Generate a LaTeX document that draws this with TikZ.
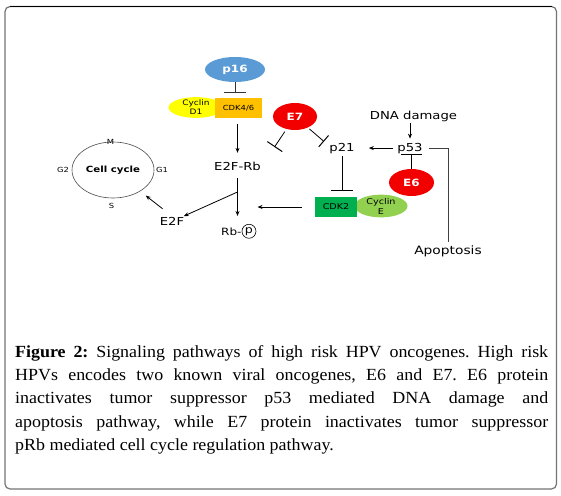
\documentclass[tikz,border=0pt]{standalone}
\usepackage{fontspec}
\setmainfont{Liberation Serif}
\newfontfamily\capfont[FakeStretch=1.055]{Liberation Serif}
\newfontfamily\dg[FakeStretch=1.2]{DejaVu Sans}
\usetikzlibrary{shapes.geometric,arrows.meta}
\definecolor{pblue}{HTML}{5B9BD5}
\definecolor{cyel}{HTML}{FFFF00}
\definecolor{corange}{HTML}{FFC000}
\definecolor{ered}{HTML}{F20000}
\definecolor{cdkgreen}{HTML}{00B050}
\definecolor{cegreen}{HTML}{92D050}
\frenchspacing
\begin{document}
\begin{tikzpicture}[x=1pt,y=-1pt,
  lbl/.style={inner sep=1pt, font=\dg\fontsize{11}{13}\selectfont},
  small/.style={inner sep=0pt, font=\dg\fontsize{7}{8}\selectfont},
  arr/.style={-{Stealth[length=5pt,width=4pt]}, line width=0.8pt},
  tee/.style={-{Bar[width=#1,line width=1pt]}, line width=0.8pt},
  tee/.default=20pt,
  oval/.style={ellipse, inner sep=0pt},
  capline/.style={anchor=base west, inner sep=0pt, font=\capfont\fontsize{17}{23}\selectfont},
  ]
\useasboundingbox (0,0) rectangle (561,495);
% frame
\draw[line width=1.2pt, black!55, rounded corners=5pt] (5,6.5) rectangle (556.5,489);
\draw[line width=1.2pt, black] (10,6.5) -- (551.5,6.5);

% p16 / cyclin D1 / CDK4/6
\node[oval, fill=pblue, minimum width=60pt, minimum height=25pt, text=white,
      font=\dg\bfseries\fontsize{10}{12}\selectfont] (p16) at (235,69.5) {p16};
\node[oval, fill=cyel, minimum width=55pt, minimum height=19pt, align=center,
      font=\dg\fontsize{7.5}{9}\selectfont] (cycd) at (196,107.5) {Cyclin\\D1};
\node[rectangle, fill=corange, minimum width=47pt, minimum height=20pt, inner sep=0pt,
      font=\dg\fontsize{7}{8}\selectfont] (cdk46) at (238.5,108) {CDK4/6};

% E7
\node[oval, fill=ered, minimum width=44pt, minimum height=27pt, text=white,
      font=\dg\bfseries\fontsize{10}{12}\selectfont] (e7) at (295,116.5) {E7};

% text nodes
\node[lbl, anchor=base] (e2frb) at (237.5,170) {E2F-Rb};
\node[lbl, anchor=base] (p21) at (342,151) {p21};
\node[lbl, anchor=base] (dna) at (413.5,119.3) {DNA damage};
\node[lbl, anchor=base] (p53) at (410,151) {p53};
\node[lbl, anchor=base, font=\dg\fontsize{11.5}{13}\selectfont] (apo) at (448,254.3) {Apoptosis};
\node[lbl, anchor=base] (e2f) at (172,225.5) {E2F};
\node[lbl, anchor=base west, font=\dg\fontsize{10}{12}\selectfont] (rb) at (220,235) {Rb-};
\node[circle, draw, line width=0.6pt, inner sep=0pt, minimum size=14pt, anchor=west,
      font=\dg\fontsize{10.5}{12}\selectfont] (pcirc) at ([xshift=-1pt]rb.east) {p};

% E6
\node[oval, fill=ered, minimum width=45pt, minimum height=27pt, text=white,
      font=\dg\bfseries\fontsize{10}{12}\selectfont] (e6) at (411.5,182.5) {E6};

% CDK2 / cyclin E
\node[oval, fill=cegreen, minimum width=53pt, minimum height=22pt, align=center,
      font=\dg\fontsize{8}{10}\selectfont] (cyce) at (381,206) {Cyclin\\E};
\node[rectangle, fill=cdkgreen, minimum width=42pt, minimum height=20pt, inner sep=0pt,
      font=\dg\fontsize{8}{9}\selectfont] (cdk2) at (336,207) {CDK2};

% cell cycle
\node[ellipse, draw=black!70, line width=0.6pt, minimum width=82pt, minimum height=56pt, inner sep=0pt,
      font=\dg\bfseries\fontsize{8.5}{10}\selectfont] (cc) at (113,170) {Cell cycle};
\node[small] (pm) at (110.5,141.5) {M};
\node[small] (pg2) at (63,170) {G2};
\node[small] (pg1) at (162,170) {G1};
\node[small] (ps) at (111.5,206) {S};

% coordinates for free ends
\coordinate (t1) at (274.5,147);
\coordinate (t2) at (324,141.5);
\coordinate (br) at (237.5,192);

% connectors
\draw[tee=22pt, black!80, shorten >=5.3pt] (p16.south) -- (p16.south |- cdk46.north);
\draw[arr, shorten <=6pt, shorten >=7.6pt] (e2frb.north |- cdk46.south) -- (e2frb.north);
\draw[tee=18pt, shorten <=3pt] (e7) -- (t1);
\draw[tee=15pt, shorten <=2pt] (e7) -- (t2);
\draw[arr, shorten >=3pt] (dna.south -| p53.north) -- (p53.north);
\draw[arr, shorten <=3pt, shorten >=13pt] (p53.west) -- (p21.east);
\draw[line width=0.8pt, black!75, shorten <=5pt, shorten >=2pt] (p53.east) -| (apo.north);
\draw[tee=21pt] (e6.north) -- (e6.north |- p53.south);
\draw[tee=22pt, shorten <=2pt, shorten >=6pt] (p21.south) -- (p21.south |- cdk2.north);
\draw[arr, shorten <=13pt, shorten >=20pt] (cdk2.west) -- (cdk2.west -| e2frb.south);
\draw[arr, shorten <=7pt, shorten >=8pt] (e2frb.south) -- (e2frb.south |- pcirc.north);
\draw[arr] (br) -- (e2f);
\draw[arr, shorten <=12pt, shorten >=7pt] (e2f.north) -- (cc);

% caption
\node[capline] (c1) at (15,357.3) {\makebox[533pt][s]{\textbf{Figure 2:} Signaling pathways of high risk HPV oncogenes. High risk}};
\node[capline] (c2) at (15,380.5) {\makebox[533pt][s]{HPVs encodes two known viral oncogenes, E6 and E7. E6 protein}};
\node[capline] (c3) at (15,403.8) {\makebox[533pt][s]{inactivates tumor suppressor p53 mediated DNA damage and}};
\node[capline] (c4) at (15,427.1) {\makebox[533pt][s]{apoptosis pathway, while E7 protein inactivates tumor suppressor}};
\node[capline] (c5) at (15,450.4) {pRb mediated cell cycle regulation pathway.};
\end{tikzpicture}
\end{document}
